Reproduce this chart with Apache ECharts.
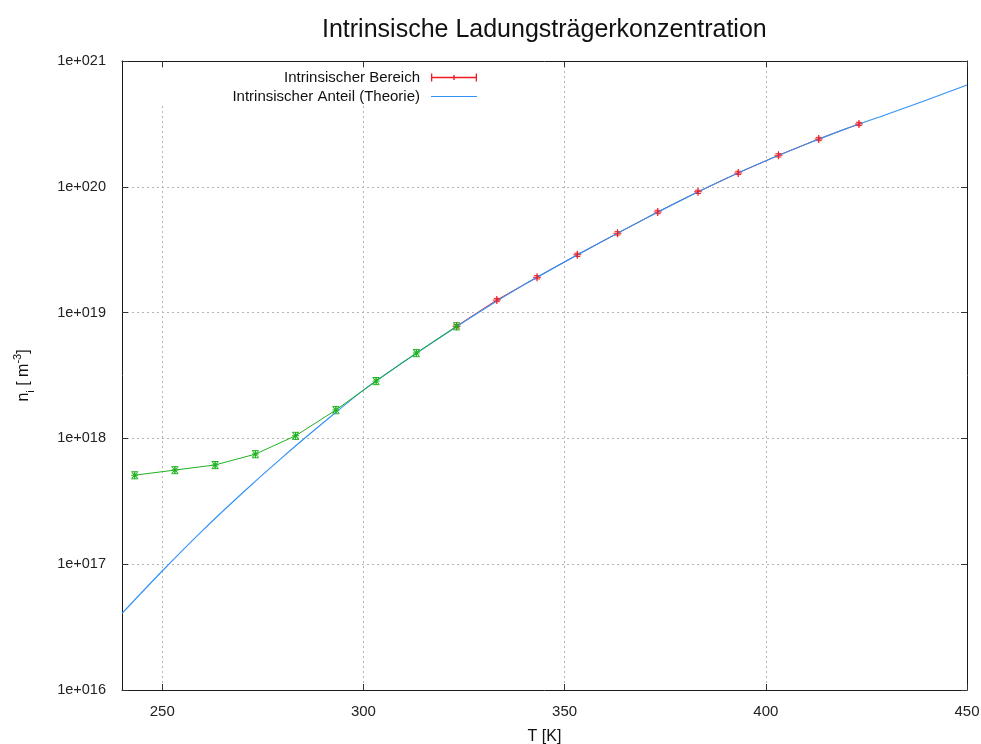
<!DOCTYPE html>
<html>
<head>
<meta charset="utf-8">
<script src="https://cdn.jsdelivr.net/npm/echarts@6/dist/echarts.min.js"></script>
<style>
  html, body { margin: 0; padding: 0; background: #fff; }
  #chart { width: 981px; height: 744px; }
</style>
</head>
<body>
<div id="chart"></div>
<script>
// x axis tick positions (K)
const xTickValues = [250, 300, 350, 400, 450];

// measured n_i below the intrinsic range: T [K], n [m^-3], absolute error
const lowT = [243.15, 253.15, 263.15, 273.15, 283.15, 293.15, 303.15, 313.15, 323.15];
const lowN = [5.1e17, 5.6e17, 6.15e17, 7.5e17, 1.05e18, 1.68e18, 2.86e18, 4.77e18, 7.8e18];
const lowErr = [3.3e16, 3.6e16, 4.0e16, 4.9e16, 6.8e16, 1.1e17, 1.86e17, 3.1e17, 5.1e17];

// measured n_i in the intrinsic range
const highT = [323.15, 333.15, 343.15, 353.15, 363.15, 373.15, 383.15, 393.15, 403.15, 413.15, 423.15];
const highN = [7.8e18, 1.26e19, 1.91e19, 2.88e19, 4.27e19, 6.31e19, 9.12e19, 1.29e20, 1.78e20, 2.40e20, 3.16e20];
const highErr = [2.3e17, 3.8e17, 5.7e17, 8.6e17, 1.3e18, 1.9e18, 2.7e18, 3.9e18, 5.3e18, 7.2e18, 9.5e18];

// theoretical intrinsic concentration
const theoryT = [240, 250, 260, 270, 280, 290, 300, 310, 320, 330, 340, 350, 360, 370, 380, 390, 400, 410, 420, 430, 440, 450];
const theoryN = [4.06e16, 8.83e16, 1.85e17, 3.70e17, 7.13e17, 1.33e18, 2.42e18, 4.06e18, 6.65e18, 1.07e19,
                 1.67e19, 2.53e19, 3.78e19, 5.58e19, 8.13e19, 1.16e20, 1.61e20, 2.18e20, 2.90e20, 3.76e20, 4.90e20, 6.45e20];

const RED = '#f01c24';
const BLUE = '#3393f5';
const GREEN = '#1fb21f';
const FONT = '"Liberation Sans", Arial, Helvetica, sans-serif';

// vertical error bar with caps, drawn through the axis scales
function errorBars(color, capHalf) {
  return function (params, api) {
    const x = api.value(0);
    const top = api.coord([x, api.value(2)]);
    const bot = api.coord([x, api.value(1)]);
    const style = { stroke: color, lineWidth: 1, fill: null };
    return {
      type: 'group',
      children: [
        { type: 'line', shape: { x1: top[0], y1: top[1], x2: bot[0], y2: bot[1] }, style: style },
        { type: 'line', shape: { x1: top[0] - capHalf, y1: top[1], x2: top[0] + capHalf, y2: top[1] }, style: style },
        { type: 'line', shape: { x1: bot[0] - capHalf, y1: bot[1], x2: bot[0] + capHalf, y2: bot[1] }, style: style }
      ]
    };
  };
}

const gridLine = { show: true, lineStyle: { color: '#b4b4b4', width: 1, type: [2, 3] } };
const frame = { show: true, onZero: false, lineStyle: { color: '#1a1a1a', width: 1 } };
const innerTick = { show: true, inside: true, length: 6, lineStyle: { color: '#333', width: 1 } };

const plusSymbol = 'path://M0,3.5H8V4.5H0Z M3.4,0H4.6V8H3.4Z';
const starSymbol = 'path://M0,3H7V4H0Z M3,0H4V7H3Z M0.3,1L1,0.3L6.7,6L6,6.7Z M6,0.3L6.7,1L1,6.7L0.3,6Z';

const chart = echarts.init(document.getElementById('chart'), null, { renderer: 'canvas' });

chart.setOption({
  animation: false,
  backgroundColor: '#ffffff',
  textStyle: { fontFamily: FONT },
  title: {
    text: 'Intrinsische Ladungsträgerkonzentration',
    left: 322,
    top: 18,
    padding: 0,
    textStyle: { fontSize: 25, fontWeight: 'normal', color: '#111', fontFamily: FONT }
  },
  grid: { left: 122, right: 14, top: 61, bottom: 54, containLabel: false, outerBoundsMode: 'none' },
  graphic: [
    { type: 'rect', z: 1, silent: true, shape: { x: 126, y: 68, width: 356, height: 37 }, style: { fill: '#ffffff' } }
  ],
  legend: [
    {
      data: ['Intrinsischer Bereich'],
      orient: 'vertical', align: 'right', right: 504, top: 70, padding: 0,
      selectedMode: false,
      itemWidth: 46, itemHeight: 8,
      symbolKeepAspect: false,
      icon: 'path://M0,0H1.3V8H0Z M0,3.2H46V4.8H0Z M44.7,0H46V8H44.7Z M22.3,1.5H23.7V6.5H22.3Z',
      itemStyle: { color: RED, borderColor: RED, borderWidth: 0, opacity: 1 },
      textStyle: { fontSize: 15, color: '#111', fontFamily: FONT, padding: [0, 6, 0, 0] }
    },
    {
      data: ['Intrinsischer Anteil (Theorie)'],
      orient: 'vertical', align: 'right', right: 504, top: 89, padding: 0,
      selectedMode: false,
      itemWidth: 46, itemHeight: 1,
      icon: 'rect',
      itemStyle: { color: BLUE, borderColor: BLUE, borderWidth: 0 },
      textStyle: { fontSize: 15, color: '#111', fontFamily: FONT, padding: [0, 6, 0, 0] }
    }
  ],
  xAxis: [
    {
      type: 'value', position: 'bottom', min: 240, max: 450,
      name: 'T [K]', nameLocation: 'middle', nameGap: 39,
      nameTextStyle: { fontSize: 16, color: '#111', fontFamily: FONT },
      axisLine: frame,
      axisTick: Object.assign({}, innerTick, { customValues: xTickValues }),
      axisLabel: { customValues: xTickValues, fontSize: 15, color: '#222', margin: 14, fontFamily: FONT },
      splitLine: Object.assign({}, gridLine, { customValues: xTickValues })
    },
    {
      type: 'value', position: 'top', min: 240, max: 450,
      axisLine: frame,
      axisTick: Object.assign({}, innerTick, { customValues: xTickValues }),
      axisLabel: { show: false },
      splitLine: { show: false }
    }
  ],
  yAxis: [
    {
      type: 'log', logBase: 10, min: 1e16, max: 1e21, position: 'left',
      name: '{b|n}{sub|i}{b| [ m}{sup|-3}{b|]}',
      nameLocation: 'middle', nameGap: 86,
      nameTextStyle: {
        color: '#111', fontFamily: FONT, fontSize: 16,
        rich: {
          b: { fontSize: 16, lineHeight: 24, color: '#111', fontFamily: FONT },
          sub: { fontSize: 11, lineHeight: 11, verticalAlign: 'bottom', color: '#111', fontFamily: FONT },
          sup: { fontSize: 11, lineHeight: 11, verticalAlign: 'top', color: '#111', fontFamily: FONT }
        }
      },
      axisLine: frame,
      axisTick: innerTick,
      axisLabel: {
        fontSize: 14.5, color: '#222', margin: 16, fontFamily: FONT,
        formatter: function (v) { return '1e+0' + Math.round(Math.log10(v)); }
      },
      splitLine: gridLine
    },
    {
      type: 'log', logBase: 10, min: 1e16, max: 1e21, position: 'right',
      axisLine: frame,
      axisTick: innerTick,
      axisLabel: { show: false },
      splitLine: { show: false }
    }
  ],
  series: [
    {
      name: 'Intrinsischer Bereich', type: 'line',
      data: highT.map(function (t, i) { return [t, highN[i]]; }),
      color: RED,
      lineStyle: { color: RED, width: 1 },
      itemStyle: { color: RED },
      symbol: plusSymbol, symbolSize: 8, showAllSymbol: true,
      z: 2
    },
    {
      name: 'Fehler Bereich', type: 'custom',
      renderItem: errorBars(RED, 3),
      encode: { x: 0, y: [1, 2] },
      data: highT.map(function (t, i) { return [t, highN[i] - highErr[i], highN[i] + highErr[i]]; }),
      z: 2
    },
    {
      name: 'Intrinsischer Anteil (Theorie)', type: 'line',
      data: theoryT.map(function (t, i) { return [t, theoryN[i]]; }),
      color: BLUE,
      lineStyle: { color: BLUE, width: 1.2 },
      itemStyle: { color: BLUE },
      symbol: 'none', smooth: 0.3,
      z: 2
    },
    {
      name: 'Übergangsbereich', type: 'line',
      data: lowT.map(function (t, i) { return [t, lowN[i]]; }),
      color: GREEN,
      lineStyle: { color: GREEN, width: 1 },
      itemStyle: { color: GREEN },
      symbol: starSymbol, symbolSize: 7, showAllSymbol: true,
      z: 2
    },
    {
      name: 'Fehler Übergang', type: 'custom',
      renderItem: errorBars(GREEN, 3.5),
      encode: { x: 0, y: [1, 2] },
      data: lowT.map(function (t, i) { return [t, lowN[i] - lowErr[i], lowN[i] + lowErr[i]]; }),
      z: 2
    }
  ]
});
</script>
</body>
</html>
